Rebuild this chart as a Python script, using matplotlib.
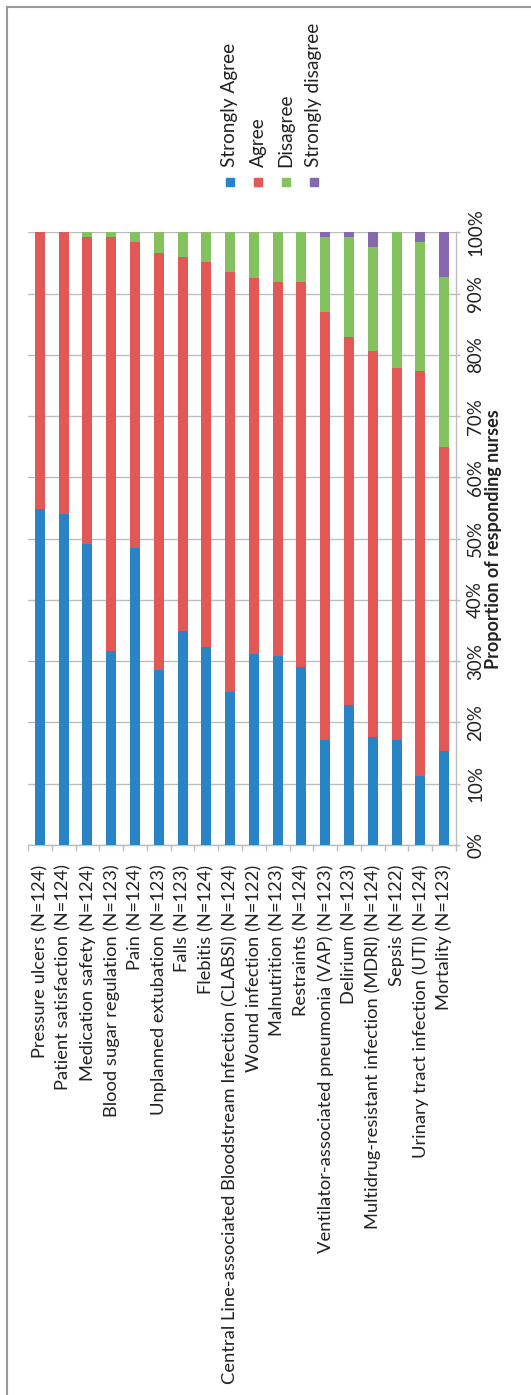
import numpy as np
import matplotlib
matplotlib.use("Agg")
import matplotlib.pyplot as plt
from matplotlib.lines import Line2D
from matplotlib.patches import Rectangle
from matplotlib.ticker import FixedLocator, PercentFormatter

plt.rcParams['font.family'] = ['Lato', 'DejaVu Sans']

## Kategorier (indikatorer) med antall svar
categories = [
    "Pressure ulcers (N=124)",
    "Patient satisfaction (N=124)",
    "Medication safety (N=124)",
    "Blood sugar regulation (N=123)",
    "Pain (N=124)",
    "Unplanned extubation (N=123)",
    "Falls (N=123)",
    "Flebitis (N=124)",
    "Central Line-associated Bloodstream Infection (CLABSI) (N=124)",
    "Wound infection (N=122)",
    "Malnutrition (N=123)",
    "Restraints (N=124)",
    "Ventilator-associated pneumonia (VAP) (N=123)",
    "Delirium (N=123)",
    "Multidrug-resistant infection (MDRI) (N=124)",
    "Sepsis (N=122)",
    "Urinary tract infection (UTI) (N=124)",
    "Mortality (N=123)",
]

## Andel svar i prosent for hver kategori
strongly_agree = [54.8, 54.0, 49.2, 31.7, 48.4, 28.5, 35.0, 32.3, 25.0,
                  31.1, 30.9, 29.0, 17.1, 22.8, 17.7, 17.2, 11.3, 15.4]
agree = [45.2, 46.0, 50.0, 67.5, 50.0, 68.2, 60.9, 62.9, 68.5,
         61.5, 61.0, 62.9, 69.9, 60.1, 62.9, 60.7, 66.1, 49.6]
disagree = [0.0, 0.0, 0.8, 0.8, 1.6, 3.3, 4.1, 4.8, 6.5,
            7.4, 8.1, 8.1, 12.2, 16.3, 17.0, 22.1, 21.0, 27.7]
strongly_disagree = [0.0, 0.0, 0.0, 0.0, 0.0, 0.0, 0.0, 0.0, 0.0,
                     0.0, 0.0, 0.0, 0.8, 0.8, 2.4, 0.0, 1.6, 7.3]

series_names = ["Strongly Agree", "Agree", "Disagree", "Strongly disagree"]
colors = ["#2884c4", "#e25856", "#84c15f", "#8569ac"]

W, H = 531, 1395
fig = plt.figure(figsize=(W/100, H/100), dpi=100)

# Hjelpefunksjoner for posisjoner i piksler (origo oppe til venstre)
def fx(px):
    return px / W
def fy(py):
    return 1 - py / H

ax = fig.add_axes([fx(28), fy(845), (456 - 28)/W, (845 - 232.3)/H])

x = np.arange(len(categories))
bottom = np.zeros(len(categories))
for vals, col in zip([strongly_agree, agree, disagree, strongly_disagree], colors):
    vals = np.array(vals)
    ax.bar(x, vals, bottom=bottom, width=0.42, color=col, zorder=3)
    bottom += vals

ax.set_xlim(-0.5, len(categories) - 0.5)
ax.set_ylim(0, 100)

## Akser og rutenett
grid_col = "#bdbdbd"
ax.yaxis.tick_right()
ax.yaxis.set_label_position("right")
ax.set_yticks(np.arange(0, 101, 10))
ax.yaxis.set_major_formatter(PercentFormatter(decimals=0))
ax.grid(axis="y", color=grid_col, linewidth=1.0, zorder=0)
ax.tick_params(axis="y", length=3, width=1.0, color=grid_col, pad=5,
               labelsize=13.5, labelcolor="#222222")
plt.setp(ax.get_yticklabels(), rotation=90, va="center")

ax.set_xticks(x)
ax.set_xticklabels(categories, rotation=90, ha="center", va="top",
                   fontsize=13.2, color="#222222")
ax.xaxis.set_minor_locator(FixedLocator(np.arange(-0.5, len(categories), 1)))
ax.tick_params(axis="x", which="major", length=0, pad=14)
ax.tick_params(axis="x", which="minor", length=4, width=1.0, color=grid_col)

for s in ["top", "left"]:
    ax.spines[s].set_visible(False)
for s in ["bottom", "right"]:
    ax.spines[s].set_color(grid_col)
    ax.spines[s].set_linewidth(1.0)

ax.set_ylabel("Proportion of responding nurses", fontsize=13,
              fontweight="bold", color="#222222", rotation=90, labelpad=1)

## Forklaring (legend) tegnet manuelt med rotert tekst
legend_x = [230, 258, 286, 314]
for name, col, lx in zip(series_names, colors, legend_x):
    fig.patches.append(Rectangle((fx(lx - 4), fy(186)), 8/W, 8/H,
                                 transform=fig.transFigure, color=col))
    fig.text(fx(lx), fy(167), name, rotation=90, ha="center", va="bottom",
             fontsize=13.7, color="#222222")

## Ramme langs venstre og øvre kant
frame_col = "#9a9a9a"
fig.add_artist(Line2D([fx(7), fx(7)], [fy(7), 0], transform=fig.transFigure,
                      color=frame_col, linewidth=1.5))
fig.add_artist(Line2D([fx(7), 1], [fy(7), fy(7)], transform=fig.transFigure,
                      color=frame_col, linewidth=1.5))

fig.savefig("out.png", dpi=100)
